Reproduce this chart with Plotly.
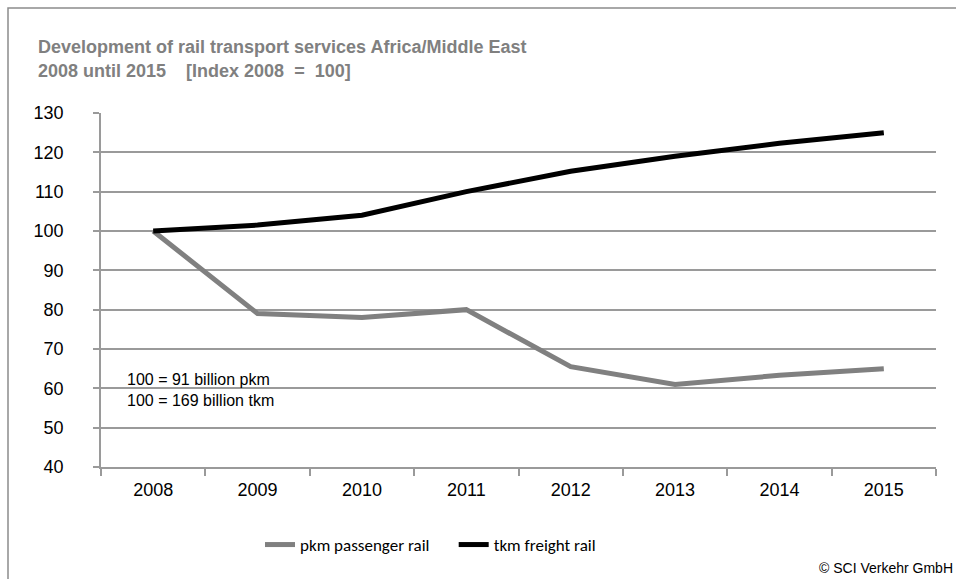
import plotly.graph_objects as go

years = ["2008", "2009", "2010", "2011", "2012", "2013", "2014", "2015"]
pkm_passenger = [100, 79, 78, 80, 65.5, 61, 63.3, 65]
tkm_freight = [100, 101.5, 104, 110, 115.2, 119, 122.3, 125]
y_ticks = [40, 50, 60, 70, 80, 90, 100, 110, 120, 130]

W, H = 956, 579
L, R, T, B = 101, 20, 113, 112
pw = W - L - R
ph = H - T - B

def px_x(x):
    return (x - L) / pw

def px_y(y):
    return (H - B - y) / ph

fig = go.Figure()
fig.add_trace(go.Scatter(x=years, y=pkm_passenger, mode="lines", name="pkm passenger rail     ",
                         line=dict(color="#808080", width=5)))
fig.add_trace(go.Scatter(x=years, y=tkm_freight, mode="lines", name="tkm freight rail",
                         line=dict(color="#000000", width=5)))

grid = "#9a9a9a"
title_font = dict(size=18, color="#808080", family="Liberation Sans, Arial, sans-serif", weight="bold")
fig.update_layout(
    width=W, height=H,
    margin=dict(l=L, r=R, t=T, b=B, autoexpand=False),
    paper_bgcolor="white", plot_bgcolor="white",
    font=dict(family="Liberation Sans, Arial, sans-serif", color="black"),
    xaxis=dict(type="category", tickson="boundaries", ticks="outside", ticklen=7, tickcolor=grid,
               tickwidth=1.5, showline=True, linecolor=grid, linewidth=1.5, showgrid=False,
               tickfont=dict(size=18), range=[-0.5, 7.5], fixedrange=True, ticklabelstandoff=6),
    yaxis=dict(range=[40, 130], tickvals=y_ticks, ticks="outside", ticklen=6, tickcolor=grid,
               tickwidth=1.5, showline=True, linecolor=grid, linewidth=1.5, showgrid=True,
               gridcolor=grid, gridwidth=1.5, tickfont=dict(size=18), zeroline=False,
               ticklabelstandoff=26, fixedrange=True),
    legend=dict(orientation="h", x=px_x(260), xanchor="left", y=px_y(545), yanchor="middle",
                font=dict(size=17, family="Liberation Sans Narrow, Carlito, Liberation Sans, sans-serif"),
                itemwidth=30, tracegroupgap=0, bgcolor="rgba(0,0,0,0)"),
    showlegend=True,
)

fig.add_shape(type="rect", xref="paper", yref="paper",
              x0=px_x(8), x1=px_x(990), y0=px_y(620), y1=px_y(8),
              line=dict(color="#8c8c8c", width=1.5), fillcolor="rgba(0,0,0,0)", layer="below")

fig.add_annotation(text="Development of rail transport services Africa/Middle East", xref="paper", yref="paper",
                   x=px_x(36), y=px_y(47), xanchor="left", yanchor="middle", showarrow=False,
                   font=title_font)
fig.add_annotation(text="2008 until 2015    [Index 2008  =  100]", xref="paper", yref="paper",
                   x=px_x(36), y=px_y(71), xanchor="left", yanchor="middle", showarrow=False,
                   font=title_font)

fig.add_annotation(text="100 = 91 billion pkm<br>100 = 169 billion tkm", xref="paper", yref="paper",
                   x=px_x(125), y=px_y(390), xanchor="left", yanchor="middle", align="left",
                   showarrow=False, font=dict(size=16, color="black"))
fig.add_annotation(text="© SCI Verkehr GmbH", xref="paper", yref="paper",
                   x=px_x(955), y=px_y(568), xanchor="right", yanchor="middle",
                   showarrow=False, font=dict(size=14, color="black"))

fig.write_html("out.html", config={"displayModeBar": False},
               post_script="document.body.style.margin='0';document.body.style.overflow='hidden';")
